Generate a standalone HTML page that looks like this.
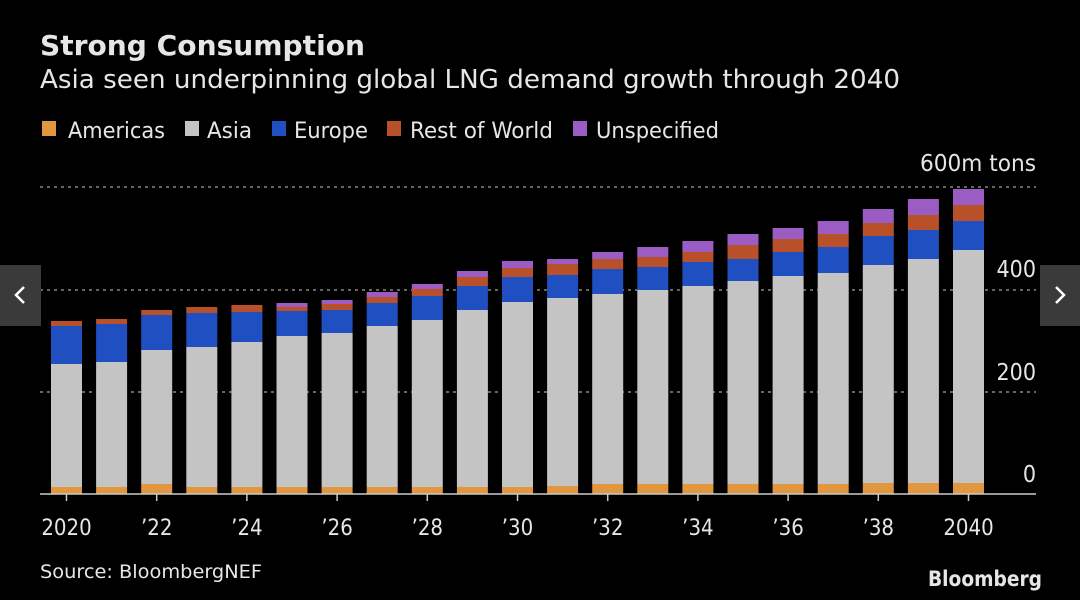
<!DOCTYPE html>
<html><head><meta charset="utf-8"><style>
html,body{margin:0;padding:0;background:#000;width:1080px;height:600px;overflow:hidden}
svg{display:block}
text{font-family:"DejaVu Sans Condensed","Liberation Sans Narrow","Liberation Sans",sans-serif;fill:#e6e6e6}
</style></head><body>
<svg width="1080" height="600" viewBox="0 0 1080 600" xmlns="http://www.w3.org/2000/svg">
<rect width="1080" height="600" fill="#000"/>
<text x="40" y="55" font-size="28" font-weight="bold" fill="#fff" textLength="325" lengthAdjust="spacingAndGlyphs">Strong Consumption</text>
<text x="40" y="88" font-size="26" textLength="860" lengthAdjust="spacingAndGlyphs">Asia seen underpinning global LNG demand growth through 2040</text>
<g font-size="22">
<rect x="42" y="121" width="14" height="15" fill="#e0973f"/><text x="68" y="138" textLength="97" lengthAdjust="spacingAndGlyphs">Americas</text>
<rect x="185" y="121" width="14" height="15" fill="#c4c4c4"/><text x="207" y="138" textLength="45" lengthAdjust="spacingAndGlyphs">Asia</text>
<rect x="272" y="121" width="14" height="15" fill="#1f4fc0"/><text x="294" y="138" textLength="74" lengthAdjust="spacingAndGlyphs">Europe</text>
<rect x="387" y="121" width="14" height="15" fill="#b8502a"/><text x="410" y="138" textLength="143" lengthAdjust="spacingAndGlyphs">Rest of World</text>
<rect x="573" y="121" width="14" height="15" fill="#9b5cc4"/><text x="596" y="138" textLength="123" lengthAdjust="spacingAndGlyphs">Unspecified</text>
</g>
<g stroke="#888" stroke-width="1.5" stroke-dasharray="3,4">
<line x1="40" y1="187" x2="1036" y2="187"/><line x1="40" y1="290" x2="1036" y2="290"/><line x1="40" y1="392" x2="1036" y2="392"/>
</g>
<g font-size="23" text-anchor="end">
<text x="1036" y="171" textLength="116" lengthAdjust="spacingAndGlyphs">600m tons</text><text x="1036" y="277">400</text><text x="1036" y="380">200</text><text x="1036" y="482">0</text>
</g>
<g id="bars"></g>
<line x1="40" y1="494" x2="1036" y2="494" stroke="#ccc" stroke-width="1.5"/>
<g id="ticks" stroke="#ccc" stroke-width="1.5"></g>
<g id="xl" font-size="22" text-anchor="middle"></g>
<text x="40" y="578" font-size="19" fill="#ccc" textLength="222" lengthAdjust="spacingAndGlyphs">Source: BloombergNEF</text>
<text x="1042" y="586" font-size="21" font-weight="bold" text-anchor="end" fill="#ddd" textLength="114" lengthAdjust="spacingAndGlyphs">Bloomberg</text>
<rect x="0" y="265" width="41" height="61" fill="#3a3a3a"/>
<path d="M24 287 L16 295 L24 303" stroke="#fff" stroke-width="2.5" fill="none"/>
<rect x="1040" y="265" width="40" height="61" fill="#3a3a3a"/>
<path d="M1056 287 L1064 295 L1056 303" stroke="#fff" stroke-width="2.5" fill="none"/>
</svg>
<script>
var d=[[487,364,326,321,321],[487,362,324,319,319],[484,350,315,310,310],[487,347,313,307,307],[487,342,312,305,305],[487,336,311,307,303],[487,333,310,304,300],[487,326,303,297,292],[487,320,296,289,284],[487,310,286,277,271],[487,302,277,268,261],[486,298,275,264,259],[484,294,269,259,252],[484,290,267,257,247],[484,286,262,252,241],[484,281,259,245,234],[484,276,252,239,228],[484,273,247,234,221],[483,265,236,223,209],[483,259,230,215,199],[483,250,221,205,189]];
var c=["#e0973f","#c4c4c4","#1f4fc0","#b8502a","#9b5cc4"];
var ns="http://www.w3.org/2000/svg",g=document.getElementById("bars"),t=document.getElementById("ticks"),xl=document.getElementById("xl");
d.forEach(function(b,i){var x=51+i*45.1,prev=494;b.forEach(function(y,k){if(prev-y>0){var r=document.createElementNS(ns,"rect");r.setAttribute("x",x);r.setAttribute("y",y);r.setAttribute("width",31);r.setAttribute("height",prev-y);r.setAttribute("fill",c[k]);g.appendChild(r);}prev=y;});
if(i%2==0){var cx=x+15.5;var l=document.createElementNS(ns,"line");l.setAttribute("x1",cx);l.setAttribute("x2",cx);l.setAttribute("y1",494);l.setAttribute("y2",501);t.appendChild(l);
var tx=document.createElementNS(ns,"text");tx.setAttribute("x",cx);tx.setAttribute("y",535);var yr=2020+i;tx.textContent=(i==0||i==20)?String(yr):"\u2019"+String(yr).slice(2);xl.appendChild(tx);}});
</script>
</body></html>
